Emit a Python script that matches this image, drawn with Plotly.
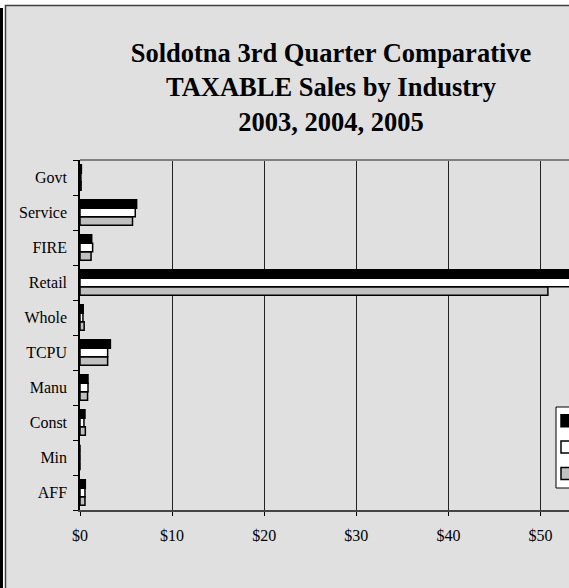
import plotly.graph_objects as go

# ── Data (millions of $, 3rd quarter taxable sales) ──────────────────────────
categories = ["AFF", "Min", "Const", "Manu", "TCPU", "Whole", "Retail", "FIRE", "Service", "Govt"]
sales_2003 = [0.54, 0.0, 0.58, 0.82, 3.0, 0.45, 50.8, 1.2, 5.7, 0.12]
sales_2004 = [0.54, 0.0, 0.43, 0.87, 3.0, 0.32, 54.0, 1.37, 6.0, 0.10]
sales_2005 = [0.58, 0.0, 0.54, 0.87, 3.3, 0.35, 55.5, 1.27, 6.15, 0.15]
years = ["2003", "2004", "2005"]
x_ticks = [0, 10, 20, 30, 40, 50]
x_labels = ["$0", "$10", "$20", "$30", "$40", "$50"]

W, H = 569, 588
M_L, M_R, M_T, M_B = 80, 0, 160, 78
PW, PH = W - M_L - M_R, H - M_T - M_B
FONT = "Liberation Serif, Times New Roman, serif"


def fx(px):
    return (px - M_L) / PW


def fy(py):
    return (H - M_B - py) / PH


fig = go.Figure()
for name, vals, fill in zip(years, [sales_2003, sales_2004, sales_2005],
                            ["#C0C0C0", "#FFFFFF", "#000000"]):
    fig.add_trace(go.Bar(
        y=categories, x=vals, name=name, orientation="h",
        marker=dict(color=fill, line=dict(color="#000000", width=1.5)),
    ))

# page frame: black rule on the far left, grey chart area with dark border
fig.add_shape(type="rect", xref="paper", yref="paper",
              x0=fx(-5), x1=fx(W + 5), y0=fy(-5), y1=fy(H + 5),
              fillcolor="#FFFFFF", line_width=0, layer="below")
fig.add_shape(type="rect", xref="paper", yref="paper",
              x0=fx(5.5), x1=fx(W + 5), y0=fy(5.5), y1=fy(H + 5),
              fillcolor="#E0E0E0", line=dict(color="#404040", width=1.5), layer="below")
fig.add_shape(type="line", xref="paper", yref="paper",
              x0=fx(1.5), x1=fx(1.5), y0=fy(8), y1=fy(H + 5),
              line=dict(color="#000000", width=3))
# plot-area top border is a lighter grey than the axis line
fig.add_shape(type="line", xref="paper", yref="paper",
              x0=0, x1=1.05, y0=1, y1=1,
              line=dict(color="#808080", width=2), layer="above")
# legend box (the legend itself is transparent and sits on top of it)
fig.add_shape(type="rect", xref="paper", yref="paper",
              x0=fx(556), x1=fx(W + 20), y0=fy(407), y1=fy(488),
              fillcolor="#FFFFFF", line=dict(color="#000000", width=1), layer="above")

fig.update_layout(
    width=W, height=H,
    margin=dict(l=M_L, r=M_R, t=M_T, b=M_B, autoexpand=False),
    paper_bgcolor="#E0E0E0",
    plot_bgcolor="#FFFFFF",
    barmode="group", bargap=0.27, bargroupgap=0,
    title=dict(
        text="Soldotna 3rd Quarter Comparative<br>TAXABLE Sales by Industry<br>2003, 2004, 2005",
        x=331 / W, xanchor="center", y=1 - 62 / H, yanchor="top",
        font=dict(family=FONT, size=26.5, color="#000000", weight="bold"),
    ),
    font=dict(family=FONT, size=16, color="#000000"),
    xaxis=dict(
        range=[0, PW / 9.21], tickvals=x_ticks, ticktext=x_labels,
        showgrid=True, gridcolor="#222222", gridwidth=1,
        showline=True, linecolor="#444444", linewidth=2,
        ticks="outside", ticklen=4, tickcolor="#000000",
        ticklabelstandoff=6, zeroline=False,
        tickfont=dict(family=FONT, size=16, color="#000000"),
    ),
    yaxis=dict(
        categoryorder="array", categoryarray=categories,
        showline=True, linecolor="#000000", linewidth=1.5,
        ticks="outside", ticklen=5, tickcolor="#000000", tickson="boundaries",
        ticklabelstandoff=8, showgrid=False,
        tickfont=dict(family=FONT, size=16, color="#000000"),
    ),
    legend=dict(
        x=fx(547), xanchor="left", y=fy(402.5), yanchor="top",
        traceorder="reversed", bgcolor="rgba(0,0,0,0)", borderwidth=0,
        font=dict(family=FONT, size=18, color="#000000"),
    ),
)

fig.write_html("out.html", config={"displayModeBar": False},
               post_script="document.body.style.margin='0px';")
